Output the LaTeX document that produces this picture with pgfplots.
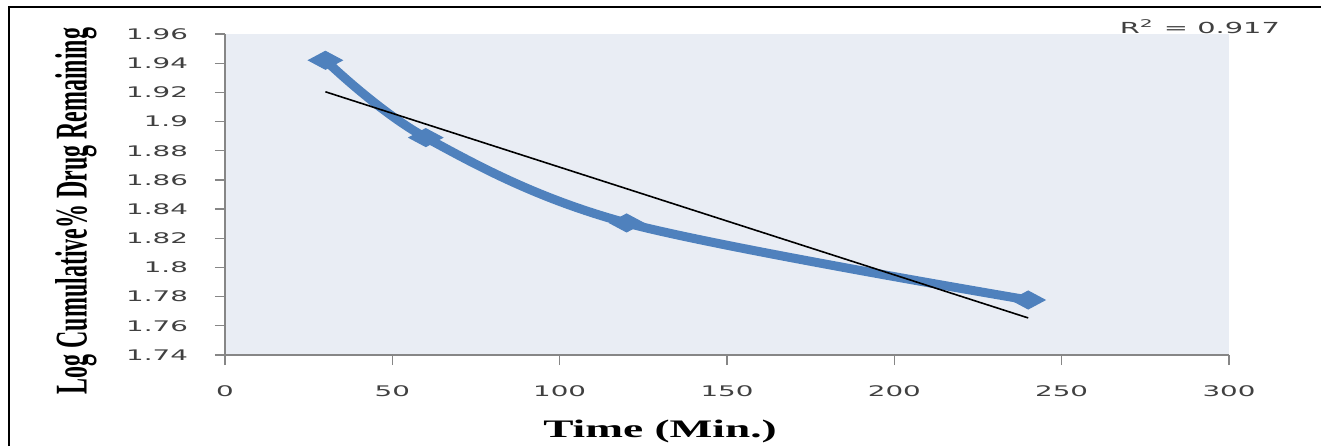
\documentclass[border=0pt]{standalone}
\usepackage{pgfplots}
\pgfplotsset{compat=1.18}
\usepackage{fontspec}
\setmainfont{Liberation Serif}
\newfontfamily\ticksans{DejaVu Sans}
\definecolor{exblue}{HTML}{4F81BD}
\definecolor{plotbg}{HTML}{E9EDF4}
\definecolor{axgray}{HTML}{868686}
\definecolor{lblgray}{HTML}{404040}
\begin{document}
\begin{tikzpicture}
\begin{axis}[
  at={(112.5pt,45.5pt)}, anchor=south west,
  scale only axis, width=502pt, height=160.5pt,
  xmin=0, xmax=300, ymin=1.74, ymax=1.96,
  axis x line*=bottom, axis y line*=left,
  axis background/.style={fill=plotbg},
  xtick={0,50,...,300},
  ytick={1.74,1.76,1.78,1.8,1.82,1.84,1.86,1.88,1.9,1.92,1.94,1.96},
  tick align=outside, major tick length=5pt,
  tick style={axgray, line width=0.6pt},
  axis line style={axgray, line width=0.8pt},
  /pgf/number format/assume math mode=true,
  xticklabel={\scalebox{1.9}[1]{\pgfmathprintnumber{\tick}}},
  yticklabel={\scalebox{1.9}[1]{\pgfmathprintnumber[fixed,precision=2]{\tick}}},
  ticklabel style={font=\ticksans\fontsize{7.3}{8}\selectfont, text=lblgray},
  yticklabel style={xshift=-10pt},
  xticklabel style={yshift=-7pt},
]
\addplot[exblue, line width=4.5pt, smooth, tension=0.55,
  mark=diamond*, mark size=4.5pt,
  mark options={fill=exblue, draw=exblue, line width=0.5pt, xscale=2.5}]
  coordinates {(30,1.942) (60,1.889) (120,1.8305) (240,1.7777)};
\addplot[black, line width=0.8pt] coordinates {(30,1.9204) (240,1.7654)};
\end{axis}
\node[anchor=base east, font=\ticksans\fontsize{7.6}{8}\selectfont, text=lblgray]
  at (643.5pt,206.5pt) {\scalebox{1.9}[1]{R\textsuperscript{2} = 0.917}};
\node[rotate=90, font=\bfseries\fontsize{12.6}{14}\selectfont]
  at (38pt,117.5pt) {\scalebox{0.95}[1.8]{Log Cumulative\% Drug Remaining}};
\node[anchor=base, font=\bfseries\fontsize{12.6}{14}\selectfont]
  at (330pt,4.5pt) {\scalebox{1.8}[1]{Time (Min.)}};
\draw[line width=1pt] (4.5pt,0pt) -- (4.5pt,219.5pt) -- (660.5pt,219.5pt);
\pgfresetboundingbox
\useasboundingbox (0,0) rectangle (660.5pt,223pt);
\end{tikzpicture}
\end{document}
